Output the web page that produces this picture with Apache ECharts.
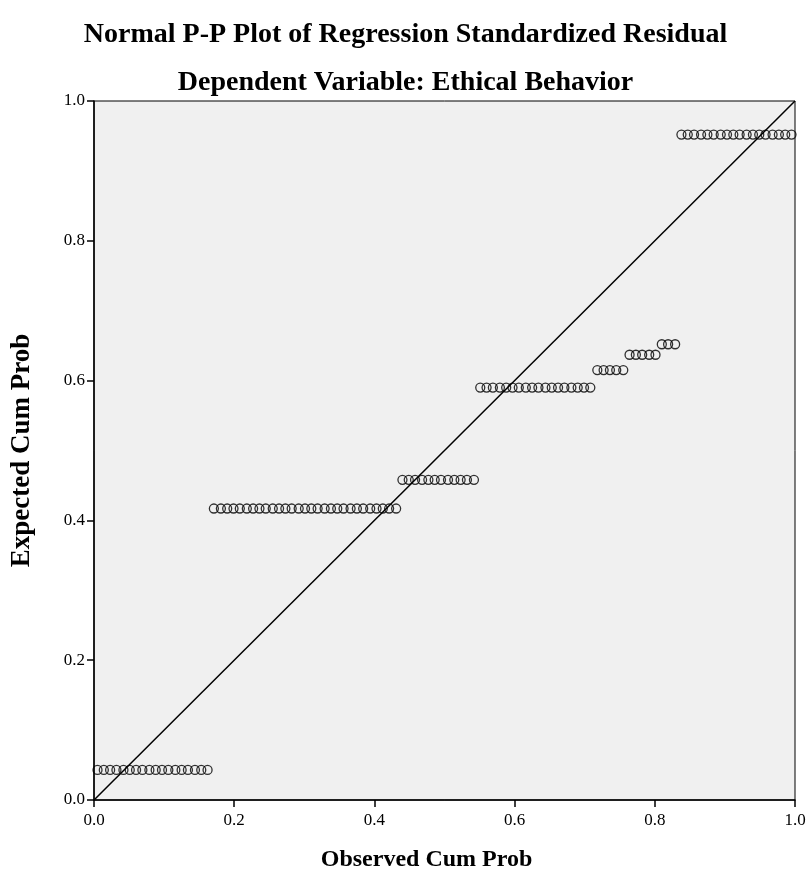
<!DOCTYPE html>
<html>
<head>
<meta charset="utf-8">
<title>Normal P-P Plot</title>
<script src="https://cdn.jsdelivr.net/npm/echarts@6/dist/echarts.min.js"></script>
<style>
  html, body { margin: 0; padding: 0; background: #fff; }
  #chart { width: 811px; height: 880px; }
</style>
</head>
<body>
<div id="chart"></div>
<script>
// observed cumulative probability of each case (sorted)
var observedCumProb = [
  0.005, 0.014, 0.023, 0.032, 0.042, 0.051, 0.060, 0.069, 0.079, 0.088,
  0.097, 0.106, 0.116, 0.125, 0.134, 0.144, 0.153, 0.162,
  0.171, 0.181, 0.190, 0.199, 0.208, 0.218, 0.227, 0.236, 0.245, 0.255,
  0.264, 0.273, 0.282, 0.292, 0.301, 0.310, 0.319, 0.329, 0.338, 0.347,
  0.356, 0.366, 0.375, 0.384, 0.394, 0.403, 0.412, 0.421, 0.431,
  0.440, 0.449, 0.458, 0.468, 0.477, 0.486, 0.495, 0.505, 0.514, 0.523,
  0.532, 0.542,
  0.551, 0.560, 0.569, 0.579, 0.588, 0.597, 0.606, 0.616, 0.625, 0.634,
  0.644, 0.653, 0.662, 0.671, 0.681, 0.690, 0.699, 0.708,
  0.718, 0.727, 0.736, 0.745, 0.755,
  0.764, 0.773, 0.782, 0.792, 0.801,
  0.810, 0.819, 0.829,
  0.838, 0.847, 0.856, 0.866, 0.875, 0.884, 0.894, 0.903, 0.912, 0.921,
  0.931, 0.940, 0.949, 0.958, 0.968, 0.977, 0.986, 0.995
];

// expected cumulative probability (normal) for the same cases
var expectedCumProb = [
  0.043, 0.043, 0.043, 0.043, 0.043, 0.043, 0.043, 0.043, 0.043, 0.043,
  0.043, 0.043, 0.043, 0.043, 0.043, 0.043, 0.043, 0.043,
  0.417, 0.417, 0.417, 0.417, 0.417, 0.417, 0.417, 0.417, 0.417, 0.417,
  0.417, 0.417, 0.417, 0.417, 0.417, 0.417, 0.417, 0.417, 0.417, 0.417,
  0.417, 0.417, 0.417, 0.417, 0.417, 0.417, 0.417, 0.417, 0.417,
  0.458, 0.458, 0.458, 0.458, 0.458, 0.458, 0.458, 0.458, 0.458, 0.458,
  0.458, 0.458,
  0.590, 0.590, 0.590, 0.590, 0.590, 0.590, 0.590, 0.590, 0.590, 0.590,
  0.590, 0.590, 0.590, 0.590, 0.590, 0.590, 0.590, 0.590,
  0.615, 0.615, 0.615, 0.615, 0.615,
  0.637, 0.637, 0.637, 0.637, 0.637,
  0.652, 0.652, 0.652,
  0.952, 0.952, 0.952, 0.952, 0.952, 0.952, 0.952, 0.952, 0.952, 0.952,
  0.952, 0.952, 0.952, 0.952, 0.952, 0.952, 0.952, 0.952
];

// reference diagonal
var diagonal = [[0, 0], [1, 1]];

var axisTicks = [0, 0.2, 0.4, 0.6, 0.8, 1.0];

var points = [];
for (var i = 0; i < observedCumProb.length; i++) {
  points.push([observedCumProb[i], expectedCumProb[i]]);
}

var serif = 'Liberation Serif';

var myChart = echarts.init(document.getElementById('chart'));
var option = {
  backgroundColor: '#fff',
  animation: false,
  title: [
    {
      text: 'Normal P-P Plot of Regression Standardized Residual',
      left: 'center',
      top: 16,
      textStyle: { fontFamily: serif, fontWeight: 'bold', fontSize: 28, color: '#000' }
    },
    {
      text: 'Dependent Variable: Ethical Behavior',
      left: 'center',
      top: 64,
      textStyle: { fontFamily: serif, fontWeight: 'bold', fontSize: 28, color: '#000' }
    }
  ],
  grid: {
    left: 94,
    right: 16,
    top: 101,
    bottom: 80,
    show: true,
    backgroundColor: '#f0f0f0',
    borderColor: '#000',
    borderWidth: 1
  },
  xAxis: {
    type: 'value',
    min: axisTicks[0],
    max: axisTicks[axisTicks.length - 1],
    interval: 0.2,
    name: 'Observed Cum Prob',
    nameLocation: 'middle',
    nameGap: 48,
    nameTextStyle: {
      fontFamily: serif, fontWeight: 'bold', fontSize: 24, color: '#000',
      padding: [0, 36, 0, 0]
    },
    axisLine: { show: true, lineStyle: { color: '#000', width: 1.5 } },
    axisTick: { show: true, length: 7, lineStyle: { color: '#000', width: 1.5 } },
    axisLabel: {
      fontFamily: serif, fontSize: 17, color: '#000', margin: 12,
      formatter: function (v) { return v.toFixed(1); }
    },
    splitLine: { show: false }
  },
  yAxis: {
    type: 'value',
    min: axisTicks[0],
    max: axisTicks[axisTicks.length - 1],
    interval: 0.2,
    name: 'Expected Cum Prob',
    nameLocation: 'middle',
    nameGap: 58,
    nameTextStyle: { fontFamily: serif, fontWeight: 'bold', fontSize: 27, color: '#000' },
    axisLine: { show: true, lineStyle: { color: '#000', width: 1.5 } },
    axisTick: { show: true, length: 7, lineStyle: { color: '#000', width: 1.5 } },
    axisLabel: {
      fontFamily: serif, fontSize: 17, color: '#000', margin: 9,
      formatter: function (v) { return v.toFixed(1); }
    },
    splitLine: { show: false }
  },
  series: [
    {
      type: 'line',
      data: diagonal,
      showSymbol: false,
      lineStyle: { color: '#000', width: 1.5 },
      z: 3
    },
    {
      type: 'scatter',
      data: points,
      symbol: 'circle',
      symbolSize: 9,
      itemStyle: { color: 'rgba(0,0,0,0)', borderColor: '#000', borderWidth: 1.3 },
      z: 2
    }
  ]
};
myChart.setOption(option);
</script>
</body>
</html>
